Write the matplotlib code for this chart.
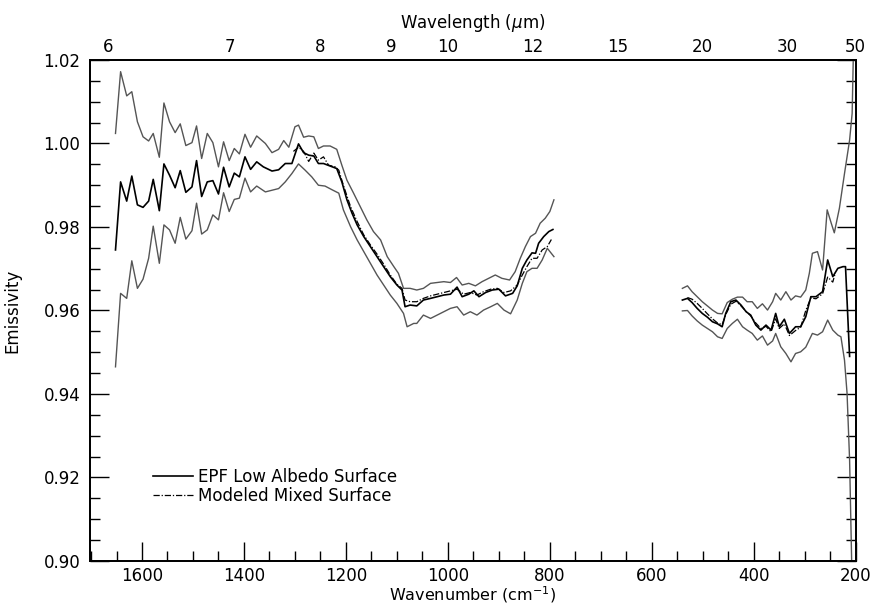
#!/usr/bin/env python3
# -*- coding: utf-8 -*-

'''
EPF low albedo surface emissivity vs modeled mixed surface
'''

import numpy as np
from matplotlib import pyplot as plt
from matplotlib.ticker import MultipleLocator, FormatStrFormatter

# ---- data ----
# short wavelength segment (cm-1)
epf_wn_a = [1652, 1642, 1630, 1620, 1609, 1598, 1587, 1578, 1566, 1557, 1546, 1535, 1525,
            1514, 1502, 1493, 1483, 1472, 1461, 1450, 1440, 1429, 1419, 1409, 1398, 1387,
            1375, 1362, 1345, 1332, 1319, 1306, 1293, 1283, 1273, 1263, 1254, 1244, 1231,
            1218, 1208, 1198, 1188, 1178, 1165, 1152, 1139, 1126, 1113, 1100, 1090, 1084,
            1074, 1061, 1048, 1034, 1021, 1008, 995, 982, 972, 959, 949, 939, 926, 913,
            900, 887, 873, 864, 854, 845, 835, 828, 822, 812, 802, 794]
epf_a = [0.9745, 0.9908, 0.9862, 0.9922, 0.9853, 0.9847, 0.9862, 0.9914, 0.9839, 0.9951,
         0.9924, 0.9894, 0.9935, 0.9883, 0.9896, 0.9959, 0.9873, 0.9908, 0.9911, 0.9879,
         0.9943, 0.9896, 0.9929, 0.9920, 0.9968, 0.9938, 0.9956, 0.9944, 0.9934, 0.9937,
         0.9952, 0.9952, 0.9999, 0.9978, 0.9972, 0.9970, 0.9952, 0.9952, 0.9946, 0.9940,
         0.9908, 0.9865, 0.9833, 0.9805, 0.9777, 0.9753, 0.9729, 0.9705, 0.9681, 0.9661,
         0.9649, 0.9609, 0.9613, 0.9611, 0.9625, 0.9629, 0.9633, 0.9637, 0.9639, 0.9656,
         0.9633, 0.9639, 0.9647, 0.9633, 0.9643, 0.9649, 0.9651, 0.9635, 0.9641, 0.9659,
         0.9701, 0.9721, 0.9738, 0.9737, 0.9761, 0.9777, 0.9789, 0.9794]

up_wn_a = [1652, 1642, 1630, 1620, 1609, 1598, 1587, 1578, 1566, 1557, 1546, 1535, 1525,
           1514, 1502, 1493, 1483, 1472, 1461, 1450, 1440, 1429, 1419, 1409, 1398, 1387,
           1375, 1358, 1345, 1332, 1322, 1312, 1300, 1293, 1283, 1273, 1263, 1254, 1244,
           1231, 1218, 1208, 1198, 1185, 1172, 1159, 1146, 1132, 1119, 1106, 1097, 1087,
           1074, 1061, 1048, 1034, 1021, 1008, 995, 983, 972, 959, 946, 933, 920, 907,
           894, 879, 868, 858, 848, 838, 828, 819, 809, 800, 792]
up_a = [1.0024, 1.0172, 1.0114, 1.0124, 1.0052, 1.0016, 1.0006, 1.0024, 0.9967, 1.0097,
        1.0052, 1.0026, 1.0047, 0.9995, 1.0002, 1.0042, 0.9964, 1.0024, 1.0002, 0.9944,
        1.0004, 0.9959, 0.9988, 0.9975, 1.0022, 0.9991, 1.0018, 1.0000, 0.9978, 0.9986,
        1.0007, 0.9991, 1.0040, 1.0044, 1.0015, 1.0018, 1.0016, 0.9988, 0.9994, 0.9994,
        0.9986, 0.9948, 0.9912, 0.9881, 0.9849, 0.9817, 0.9789, 0.9769, 0.9729, 0.9705,
        0.9689, 0.9653, 0.9653, 0.9649, 0.9653, 0.9665, 0.9667, 0.9669, 0.9667, 0.9679,
        0.9661, 0.9665, 0.9659, 0.9669, 0.9677, 0.9685, 0.9677, 0.9673, 0.9693, 0.9725,
        0.9753, 0.9777, 0.9785, 0.9809, 0.9821, 0.9837, 0.9865]

lo_wn_a = [1652, 1642, 1630, 1620, 1609, 1598, 1587, 1578, 1566, 1557, 1546, 1535, 1525,
           1514, 1502, 1493, 1483, 1472, 1461, 1450, 1440, 1429, 1419, 1409, 1398, 1387,
           1375, 1358, 1345, 1332, 1319, 1306, 1293, 1280, 1267, 1254, 1241, 1227, 1214,
           1205, 1191, 1178, 1165, 1152, 1139, 1126, 1113, 1100, 1087, 1080, 1067, 1061,
           1048, 1034, 1021, 1008, 995, 982, 969, 956, 943, 930, 916, 903, 890, 877, 864,
           854, 845, 835, 825, 815, 805, 792]
lo_a = [0.9465, 0.9641, 0.9629, 0.9719, 0.9653, 0.9675, 0.9725, 0.9802, 0.9713, 0.9805,
        0.9793, 0.9761, 0.9823, 0.9771, 0.9791, 0.9857, 0.9783, 0.9793, 0.9829, 0.9817,
        0.9882, 0.9837, 0.9866, 0.9869, 0.9917, 0.9884, 0.9898, 0.9884, 0.9888, 0.9892,
        0.9908, 0.9928, 0.9951, 0.9936, 0.9920, 0.9900, 0.9898, 0.9889, 0.9881, 0.9841,
        0.9801, 0.9769, 0.9741, 0.9713, 0.9685, 0.9661, 0.9637, 0.9617, 0.9593, 0.9561,
        0.9569, 0.9569, 0.9589, 0.9581, 0.9589, 0.9597, 0.9605, 0.9609, 0.9589, 0.9597,
        0.9589, 0.9601, 0.9609, 0.9617, 0.9601, 0.9592, 0.9625, 0.9665, 0.9693, 0.9701,
        0.9701, 0.9721, 0.9749, 0.9729]

mod_wn_a = [1303, 1293, 1283, 1273, 1263, 1254, 1244, 1234, 1221, 1214, 1205, 1191, 1178,
            1165, 1152, 1139, 1126, 1113, 1100, 1090, 1084, 1074, 1061, 1048, 1034, 1021,
            1008, 995, 982, 969, 956, 943, 930, 916, 903, 890, 877, 864, 854, 845, 835,
            825, 815, 805, 797]
mod_a = [0.9981, 0.9991, 0.9981, 0.9957, 0.9977, 0.9960, 0.9968, 0.9948, 0.9944, 0.9936,
         0.9900, 0.9849, 0.9813, 0.9781, 0.9757, 0.9735, 0.9711, 0.9685, 0.9663, 0.9653,
         0.9625, 0.9621, 0.9621, 0.9629, 0.9635, 0.9639, 0.9643, 0.9647, 0.9651, 0.9639,
         0.9643, 0.9637, 0.9645, 0.9651, 0.9653, 0.9643, 0.9647, 0.9661, 0.9685, 0.9705,
         0.9725, 0.9725, 0.9745, 0.9753, 0.9770]

# long wavelength segment (cm-1)
epf_wn_b = [540, 530, 521, 511, 501, 491, 481, 471, 462, 455, 445, 435, 425, 415, 406,
            396, 386, 376, 366, 357, 350, 340, 330, 318, 308, 298, 288, 278, 265, 255,
            245, 235, 225, 220, 212]
epf_b = [0.9625, 0.9629, 0.9619, 0.9605, 0.9593, 0.9584, 0.9573, 0.9568, 0.9561, 0.9593,
         0.9621, 0.9625, 0.9613, 0.9597, 0.9589, 0.9565, 0.9553, 0.9565, 0.9553, 0.9593,
         0.9561, 0.9579, 0.9545, 0.9561, 0.9561, 0.9585, 0.9633, 0.9633, 0.9645, 0.9721,
         0.9681, 0.9701, 0.9705, 0.9705, 0.9490]

up_wn_b = [540, 530, 521, 511, 501, 491, 481, 471, 462, 452, 442, 432, 422, 413, 403,
           393, 383, 373, 363, 357, 347, 337, 327, 318, 308, 298, 291, 285, 275, 265,
           256, 248, 242, 232, 222, 212, 207, 204]
up_b = [0.9653, 0.9659, 0.9645, 0.9633, 0.9621, 0.9611, 0.9601, 0.9593, 0.9592, 0.9619,
        0.9627, 0.9632, 0.9632, 0.9621, 0.9621, 0.9605, 0.9616, 0.9601, 0.9621, 0.9641,
        0.9625, 0.9645, 0.9625, 0.9635, 0.9632, 0.9649, 0.9689, 0.9737, 0.9741, 0.9697,
        0.9841, 0.9809, 0.9786, 0.9845, 0.9928, 1.0008, 1.0072, 1.0250]

lo_wn_b = [540, 530, 521, 511, 501, 491, 481, 471, 462, 452, 442, 432, 422, 413, 403,
           393, 383, 373, 363, 357, 347, 337, 327, 318, 308, 298, 285, 275, 265, 255,
           245, 235, 229, 222, 217, 212, 208, 206]
lo_b = [0.9599, 0.9600, 0.9587, 0.9575, 0.9565, 0.9557, 0.9549, 0.9537, 0.9533, 0.9557,
        0.9569, 0.9579, 0.9561, 0.9553, 0.9545, 0.9529, 0.9539, 0.9517, 0.9527, 0.9545,
        0.9513, 0.9497, 0.9477, 0.9497, 0.9501, 0.9512, 0.9545, 0.9541, 0.9549, 0.9577,
        0.9553, 0.9541, 0.9537, 0.9481, 0.9402, 0.9242, 0.9002, 0.8900]

mod_wn_b = [530, 521, 511, 501, 491, 481, 471, 462, 455, 445, 435, 425, 415, 406, 396,
            386, 376, 366, 357, 350, 340, 330, 318, 308, 298, 288, 278, 265, 255, 245, 240]
mod_b = [0.9631, 0.9627, 0.9617, 0.9605, 0.9592, 0.9580, 0.9570, 0.9566, 0.9590, 0.9615,
         0.9622, 0.9611, 0.9598, 0.9587, 0.9570, 0.9557, 0.9562, 0.9549, 0.9580, 0.9557,
         0.9568, 0.9540, 0.9552, 0.9560, 0.9600, 0.9630, 0.9628, 0.9640, 0.9680, 0.9668,
         0.9690]

# top axis labels (wavelength, microns)
wl_ticks = [6, 7, 8, 9, 10, 12, 15, 20, 30, 50]

plt.rcParams['font.family'] = ['DejaVu Sans']
plt.rcParams['font.size'] = 12
plt.rc('axes', linewidth=1.3)

fig = plt.figure(figsize=(8.73, 6.07), dpi=100)
ax = fig.add_axes([0.1031, 0.0758, 0.8771, 0.8254])

grey = '#555555'
ax.plot(up_wn_a, up_a, color=grey, lw=1.0)
ax.plot(lo_wn_a, lo_a, color=grey, lw=1.0)
ax.plot(up_wn_b, up_b, color=grey, lw=1.0)
ax.plot(lo_wn_b, lo_b, color=grey, lw=1.0)
ax.plot(epf_wn_a, epf_a, color='black', lw=1.2, label='EPF Low Albedo Surface')
ax.plot(epf_wn_b, epf_b, color='black', lw=1.2)
ax.plot(mod_wn_a, mod_a, color='black', lw=0.9, ls=(0, (5, 1.5, 1, 1.5)),
        label='Modeled Mixed Surface')
ax.plot(mod_wn_b, mod_b, color='black', lw=0.9, ls=(0, (5, 1.5, 1, 1.5)))

ax.set_xlim(1702, 200)
ax.set_ylim(0.90, 1.02)
ax.xaxis.set_major_locator(MultipleLocator(200))
ax.xaxis.set_minor_locator(MultipleLocator(50))
ax.yaxis.set_major_locator(MultipleLocator(0.02))
ax.yaxis.set_minor_locator(MultipleLocator(0.005))
ax.yaxis.set_major_formatter(FormatStrFormatter('%.2f'))
ax.tick_params(which='both', direction='in', top=True, right=True, width=1.0)
ax.tick_params(which='major', length=13.5)
ax.tick_params(which='minor', length=7)
ax.tick_params(axis='x', pad=4)
ax.tick_params(axis='y', pad=7)

ax.set_xlabel('Wavenumber (cm$^{-1}$)', labelpad=0, fontsize=11.5)
ax.set_ylabel('Emissivity', labelpad=16)

# wavelength labels along the top
ax2 = ax.twiny()
ax2.set_xlim(ax.get_xlim())
ax2.set_xticks([1e4 / w for w in wl_ticks])
ax2.set_xticklabels([str(w) for w in wl_ticks])
ax2.tick_params(axis='x', length=0, pad=3)
ax2.set_xlabel(r'Wavelength ($\mu$m)', labelpad=7)

ax.legend(loc='lower left', bbox_to_anchor=(0.072, 0.096), frameon=False,
          handlelength=2.4, handletextpad=0.3, labelspacing=0.05, borderpad=0,
          fontsize=12)

fig.savefig('out.png', dpi=100)
